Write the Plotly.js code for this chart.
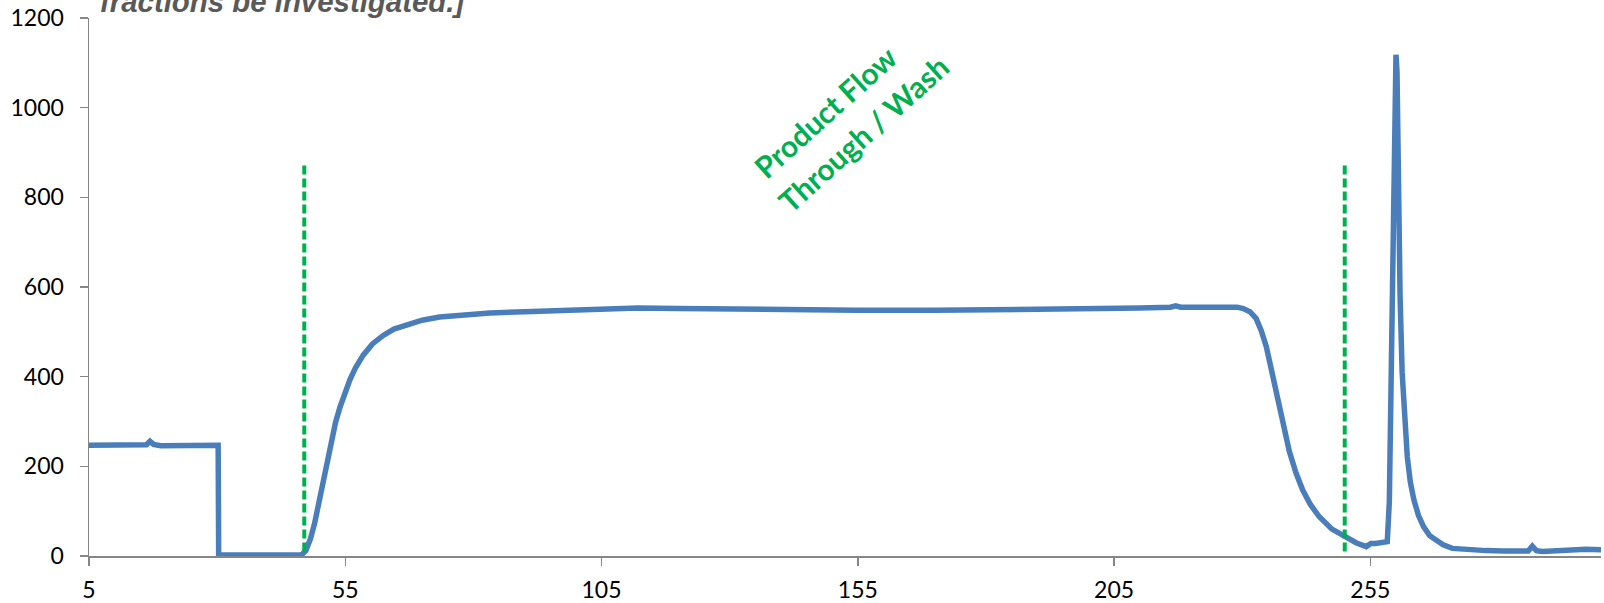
<!DOCTYPE html>
<html>
<head>
<meta charset="utf-8">
<script src="https://cdn.plot.ly/plotly-3.0.1.min.js"></script>
<style>html,body{margin:0;padding:0;background:#fff;}#chart{width:1604px;height:603px;}</style>
</head>
<body>
<div id="chart"></div>
<script>
// Time axis (x) and signal (y)
const timeValues = [5, 10, 15, 16.2, 16.9, 17.6, 19, 25, 30.2, 30.3, 35, 40, 45, 46.5, 47.3, 48.2, 49, 49.8, 50.7, 51.5, 52.3, 53.1, 54, 55, 55.9, 57, 58.5, 60.3, 62.4, 64.5, 67, 70, 73.4, 78, 83.2, 90, 98, 105, 112, 120, 130, 140, 155, 170, 185, 200, 210, 216, 217, 218, 222, 227.5, 229, 230.2, 231.5, 232.7, 233.7, 234.7, 235.4, 236, 236.7, 237.3, 238.3, 239.2, 240.5, 241.8, 243.3, 245, 247.5, 250.3, 252.3, 254.2, 254.7, 255.1, 256, 257.4, 258.3, 258.7, 259.1, 259.5, 259.8, 260, 260.2, 260.5, 260.8, 261.2, 261.7, 262.2, 262.8, 263.5, 264.4, 265.4, 266.6, 268, 269.2, 271, 274, 277.6, 281, 284.7, 285.8, 286.6, 287.4, 288.6, 291, 293.8, 297, 300];
const signalValues = [247, 247, 247, 248, 256, 249, 246, 246, 247, 2, 2, 2, 2, 3, 12, 38, 72, 118, 170, 220, 262, 298, 333, 366, 393, 420, 448, 473, 492, 506, 516, 526, 533, 538, 542, 545, 548, 551, 553, 552, 550, 549, 548, 548, 549, 551, 553, 555, 558, 555, 556, 556, 555, 552, 545, 530, 503, 467, 432, 400, 360, 326, 274, 233, 185, 147, 115, 88, 60, 40, 29, 21, 26, 28, 28, 29, 32, 120, 450, 850, 1090, 1118, 1080, 760, 580, 410, 300, 222, 165, 125, 90, 65, 45, 33, 25, 17, 14, 12, 11, 10, 11, 22, 12, 10, 12, 15, 15, 14];

// Fraction marker lines
const markerTimes = [47, 250];
const markerBottom = 10;
const markerTop = 875;

// Axis ticks
const xTickValues = [5, 55, 105, 155, 205, 255];
const yTickValues = [0, 200, 400, 600, 800, 1000, 1200];

// Texts
const titleTail = "fractions be investigated.]";
const regionLabelLines = ["Product Flow", "Through / Wash"];
const regionLabelX = [148.5, 156.1];
const regionLabelY = [990, 944];

const traces = [{
  x: timeValues, y: signalValues, type: 'scatter', mode: 'lines',
  line: {color: '#4a7ebb', width: 5.5}, hoverinfo: 'skip', showlegend: false
}];
markerTimes.forEach(t => traces.push({
  x: [t, t], y: [markerBottom, markerTop], type: 'scatter', mode: 'lines',
  line: {color: '#00b050', width: 4, dash: '9px,4px'}, hoverinfo: 'skip', showlegend: false
}));

const tickFont = {family: 'Lato, "Open Sans", sans-serif', size: 23, color: '#000'};
const annotations = [{
  text: titleTail, xref: 'paper', yref: 'paper', x: 0.006, y: 0.996,
  xanchor: 'left', yanchor: 'bottom', showarrow: false,
  font: {family: '"Liberation Sans", Arial, sans-serif', size: 29.4, color: '#595959', weight: 'bold', style: 'italic'}
}];
regionLabelLines.forEach((t, i) => annotations.push({
  text: t, xref: 'x', yref: 'y', x: regionLabelX[i], y: regionLabelY[i],
  xanchor: 'center', yanchor: 'middle', showarrow: false, textangle: -42,
  font: {family: 'Lato, "Open Sans", sans-serif', size: 30, color: '#00b050', weight: 'bold'}
}));

const layout = {
  width: 1604, height: 603,
  margin: {l: 89, r: 3, t: 18, b: 47},
  paper_bgcolor: '#fff', plot_bgcolor: '#fff',
  showlegend: false,
  xaxis: {
    range: [5, 300], tickvals: xTickValues, ticktext: xTickValues.map(String),
    ticks: 'outside', ticklen: 8, tickwidth: 1.5, tickcolor: '#868686',
    showline: true, linecolor: '#868686', linewidth: 1.5,
    showgrid: false, zeroline: false, tickfont: tickFont,
    ticklabelstandoff: 5, automargin: false, fixedrange: true
  },
  yaxis: {
    range: [0, 1200], tickvals: yTickValues, ticktext: yTickValues.map(String),
    ticks: 'outside', ticklen: 8, tickwidth: 1.5, tickcolor: '#868686',
    showline: true, linecolor: '#868686', linewidth: 1.5,
    showgrid: false, zeroline: false, tickfont: tickFont,
    ticklabelstandoff: 11, automargin: false, fixedrange: true
  },
  annotations: annotations
};

Plotly.newPlot('chart', traces, layout, {staticPlot: true, displayModeBar: false});
</script>
</body>
</html>
